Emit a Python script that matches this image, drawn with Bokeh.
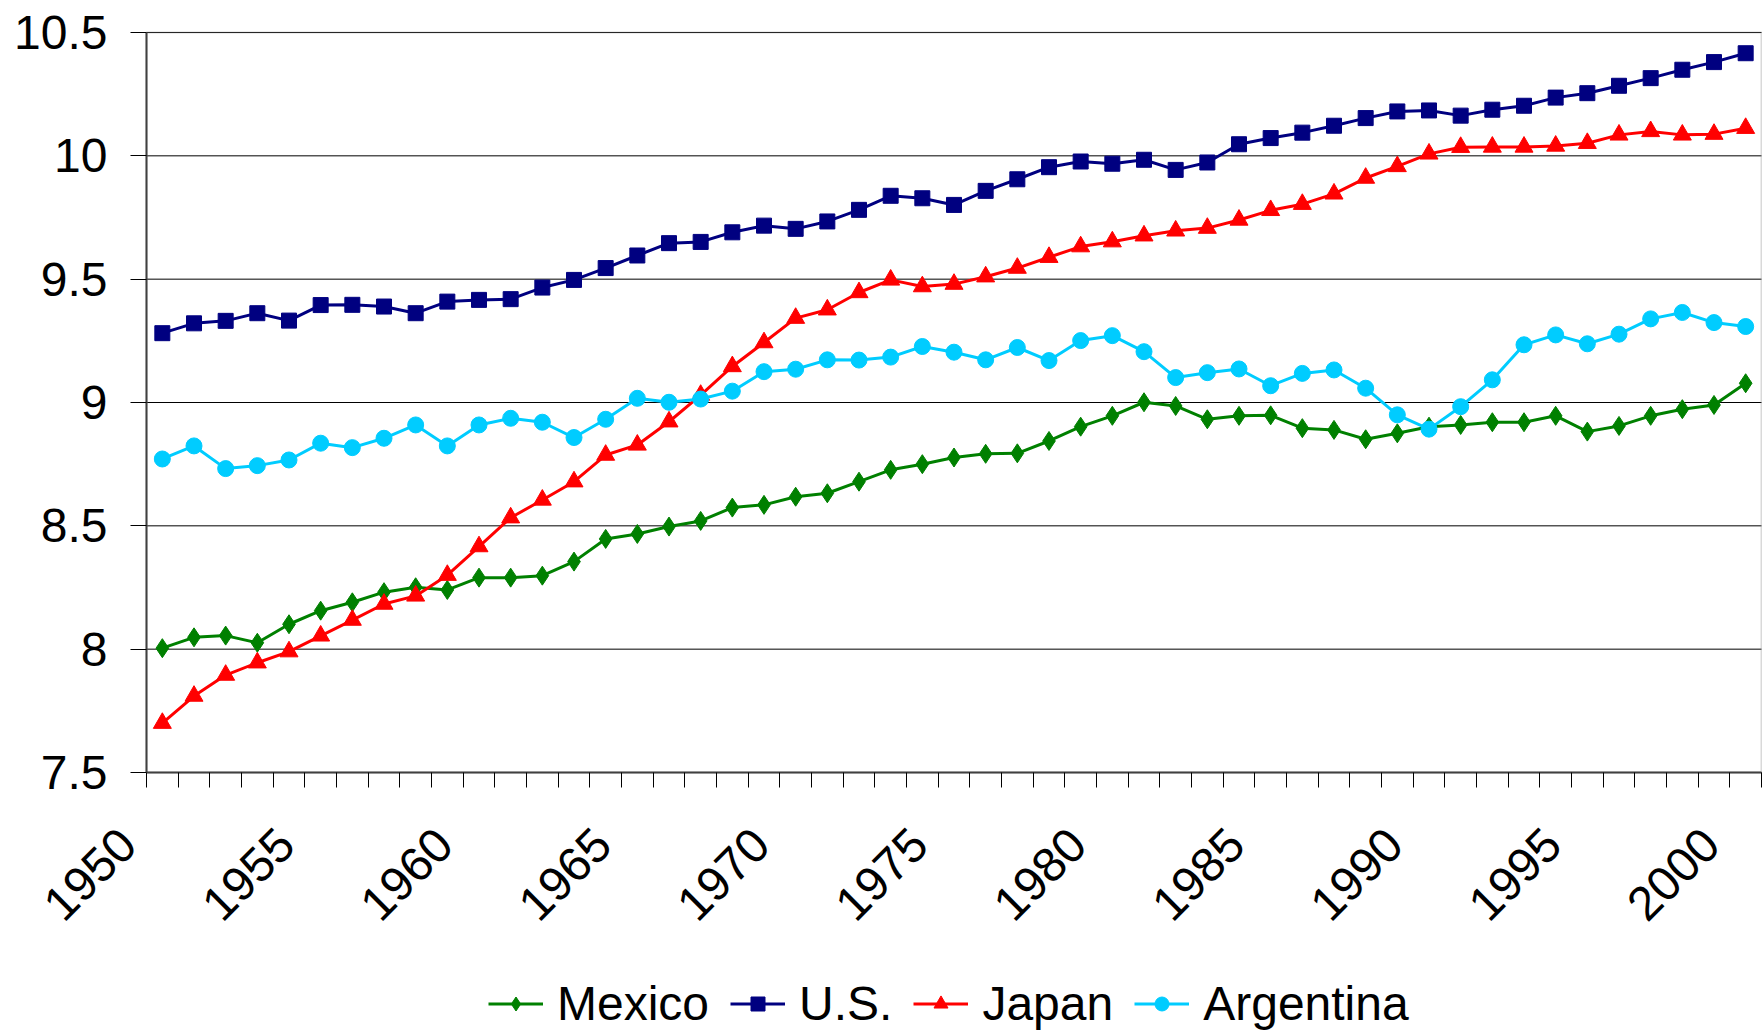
import math
from bokeh.plotting import figure
from bokeh.models import (FixedTicker, NumeralTickFormatter, Legend, LegendItem,
                          Range1d, BoxAnnotation)
from bokeh.embed import file_html
from bokeh.resources import INLINE

years = list(range(1950, 2001))

mexico = [8.004, 8.048, 8.055, 8.026, 8.101, 8.156, 8.190, 8.231, 8.251, 8.240,
          8.290, 8.290, 8.298, 8.355, 8.447, 8.467, 8.497, 8.520, 8.574, 8.585,
          8.618, 8.632, 8.679, 8.727, 8.750, 8.777, 8.792, 8.794, 8.844, 8.902,
          8.946, 9.001, 8.986, 8.932, 8.946, 8.948, 8.896, 8.889, 8.851, 8.875,
          8.902, 8.909, 8.920, 8.920, 8.946, 8.882, 8.905, 8.946, 8.973, 8.990,
          9.078]
us = [9.281, 9.321, 9.331, 9.362, 9.332, 9.395, 9.396, 9.389, 9.362, 9.409,
      9.416, 9.419, 9.466, 9.497, 9.545, 9.596, 9.646, 9.651, 9.690, 9.717,
      9.704, 9.734, 9.781, 9.838, 9.828, 9.801, 9.858, 9.905, 9.954, 9.977,
      9.968, 9.984, 9.943, 9.973, 10.047, 10.072, 10.094, 10.122, 10.153, 10.180,
      10.184, 10.163, 10.187, 10.203, 10.236, 10.254, 10.284, 10.315, 10.349, 10.380,
      10.416]
japan = [7.700, 7.810, 7.895, 7.945, 7.990, 8.054, 8.118, 8.183, 8.216, 8.300,
         8.416, 8.533, 8.605, 8.679, 8.787, 8.828, 8.922, 9.030, 9.146, 9.243,
         9.342, 9.376, 9.446, 9.497, 9.470, 9.480, 9.510, 9.545, 9.589, 9.632,
         9.652, 9.676, 9.696, 9.707, 9.740, 9.779, 9.804, 9.846, 9.910, 9.957,
         10.008, 10.035, 10.036, 10.036, 10.040, 10.051, 10.085, 10.099, 10.085, 10.088,
         10.112]
argentina = [8.771, 8.824, 8.732, 8.744, 8.767, 8.835, 8.817, 8.855, 8.909, 8.824,
             8.909, 8.936, 8.920, 8.858, 8.932, 9.017, 9.001, 9.014, 9.046, 9.125,
             9.135, 9.173, 9.172, 9.184, 9.227, 9.204, 9.173, 9.223, 9.170, 9.251,
             9.271, 9.206, 9.101, 9.121, 9.136, 9.068, 9.118, 9.132, 9.058, 8.950,
             8.892, 8.983, 9.092, 9.234, 9.274, 9.238, 9.277, 9.339, 9.365, 9.324,
             9.308]

series_names = ["Mexico", "U.S.", "Japan", "Argentina"]
y_ticks = [7.5, 8, 8.5, 9, 9.5, 10, 10.5]
x_label_years = list(range(1950, 2001, 5))

FONT = "Liberation Sans"

# layout (pixels): the plot area is 146..1761 wide and 32..772 high; the frame
# covers the whole canvas so that tick labels and legend are drawn inside it
W, H = 1762, 1031
TOP, LEFT, RIGHT = 32, 146, 1
AXIS_Y = 772
x0, x1 = years[0] - 0.5, years[-1] + 0.5
px_per_x = (W - LEFT - RIGHT) / (x1 - x0)
px_per_y = (AXIS_Y - TOP) / (y_ticks[-1] - y_ticks[0])

x_start = x0 - LEFT / px_per_x
x_end = x1 + RIGHT / px_per_x
y_start = y_ticks[0] - (H - AXIS_Y) / px_per_y
y_end = y_ticks[-1] + TOP / px_per_y

p = figure(width=W, height=H, output_backend="svg", toolbar_location=None,
           x_range=Range1d(x_start, x_end), y_range=Range1d(y_start, y_end),
           min_border_left=0, min_border_right=0, min_border_top=0,
           min_border_bottom=0)

p.background_fill_color = "white"
p.border_fill_color = "white"
p.outline_line_color = None
p.xgrid.visible = False
p.ygrid.visible = False

# horizontal gridlines across the plot area only
p.segment(x0=[x0] * len(y_ticks), x1=[x1] * len(y_ticks), y0=y_ticks, y1=y_ticks,
          line_color="black", line_width=1, level="underlay")

# plot-area border (gray)
p.add_layout(BoxAnnotation(left=x0, right=x1, bottom=y_ticks[0], top=y_ticks[-1],
                           fill_alpha=0, line_color="#808080", line_width=2,
                           level="underlay"))

# y axis at the left edge of the plot area
ya = p.yaxis[0]
ya.fixed_location = x0
ya.bounds = (y_ticks[0], y_ticks[-1])
ya.ticker = FixedTicker(ticks=y_ticks)
ya.formatter = NumeralTickFormatter(format="0.[0]")
ya.major_label_text_font = FONT
ya.major_label_text_font_size = "48px"
ya.major_label_text_color = "black"
ya.major_tick_out = 16
ya.major_tick_in = 0
ya.major_tick_line_color = "black"
ya.minor_tick_line_color = None
ya.major_label_standoff = 23
ya.axis_line_color = "#404040"
ya.axis_line_width = 2

# x axis at 7.5; tick marks between categories; year labels hang from the
# category boundary on their left
boundaries = [y - 0.5 for y in years] + [years[-1] + 0.5]
label_pos = [y - 0.5 for y in x_label_years]
xa = p.xaxis[0]
xa.fixed_location = y_ticks[0]
xa.bounds = (x0, x1)
xa.ticker = FixedTicker(ticks=label_pos, minor_ticks=boundaries)
xa.major_label_overrides = {pos: str(y) + "\u00a0\u00a0"
                            for pos, y in zip(label_pos, x_label_years)}
xa.major_label_text_font = FONT
xa.major_label_text_font_size = "48px"
xa.major_label_text_color = "black"
xa.major_label_orientation = math.pi / 4
xa.major_tick_line_color = None
xa.major_tick_out = 15
xa.major_tick_in = 0
xa.minor_tick_line_color = "black"
xa.minor_tick_out = 15
xa.minor_tick_in = 0
xa.axis_line_color = "#404040"
xa.axis_line_width = 2
xa.major_label_standoff = 30

specs = [
    (mexico, "#008000", "diamond", 19),
    (us, "#000080", "square", 15),
    (japan, "#FF0000", "triangle", 18),
    (argentina, "#00CCFF", "circle", 16),
]

items = []
for name, (vals, color, marker, size) in zip(series_names, specs):
    lr = p.line(years, vals, line_color=color, line_width=3)
    sr = p.scatter(years, vals, marker=marker, size=size, fill_color=color,
                   line_color=color)
    items.append(LegendItem(label=name, renderers=[lr, sr]))

legend = Legend(items=items, orientation="horizontal", location=(LEFT + 342, 0),
                label_text_font=FONT, label_text_font_size="48px",
                label_text_color="black", glyph_width=55, glyph_height=35,
                label_standoff=14, spacing=21, padding=0, margin=0,
                border_line_color=None, background_fill_alpha=0)
p.add_layout(legend, "center")

open("out.html", "w").write(file_html(p, INLINE))
